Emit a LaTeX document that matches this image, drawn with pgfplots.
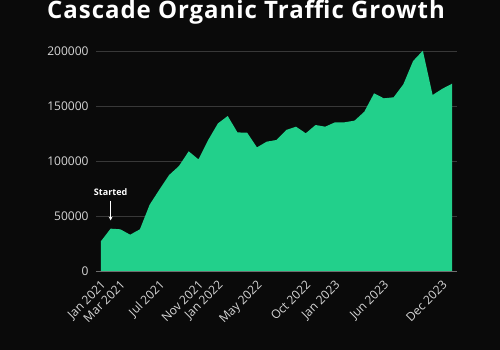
\documentclass[border=0pt]{standalone}
\usepackage{fontspec}
\setmainfont{Open Sans}
\newfontfamily\titlefont[LetterSpace=4]{Open Sans}
\usepackage{pgfplots}
\usetikzlibrary{arrows.meta}
\pgfplotsset{compat=1.18}
\definecolor{bg}{HTML}{0A0A0A}
\definecolor{fillg}{HTML}{22D08B}
\definecolor{gridc}{HTML}{383838}
\definecolor{basec}{HTML}{6E6E6E}
\definecolor{tickc}{HTML}{D6D6D6}
\begin{document}
\begin{tikzpicture}
\fill[bg] (-96bp,-79bp) rectangle (404bp,271bp);
\begin{axis}[
  at={(0,0)}, anchor=south west,
  scale only axis, width=361bp, height=220bp,
  xmin=-0.5, xmax=36.5, ymin=0, ymax=200000,
  clip=false,
  axis line style={draw=none},
  major tick length=0pt,
  ymajorgrids, grid style={gridc, line width=0.8bp},
  ytick={0,50000,100000,150000,200000},
  scaled y ticks=false,
  /pgf/number format/.cd, fixed, 1000 sep={}, assume math mode=true,
  /pgfplots/.cd,
  yticklabel style={font=\fontsize{12bp}{15bp}\selectfont, text=tickc, xshift=-4bp},
  xtick={0,2,6,10,12,16,21,24,29,35},
  xticklabels={Jan 2021,Mar 2021,Jul 2021,Nov 2021,Jan 2022,May 2022,Oct 2022,Jan 2023,Jun 2023,Dec 2023},
  xticklabel style={font=\fontsize{12bp}{15bp}\selectfont, text=tickc, rotate=45, anchor=north east, xshift=-3bp, yshift=-2bp},
]
\addplot[fill=fillg, draw=none] coordinates {
(0,27000) (1,38500) (2,37900) (3,33000) (4,37900) (5,60300) (6,74000) (7,87300)
(8,95400) (9,108800) (10,101500) (11,119100) (12,134200) (13,140900) (14,126000)
(15,125700) (16,112400) (17,117600) (18,119100) (19,128200) (20,131200) (21,125200)
(22,132700) (23,131200) (24,135200) (25,135200) (26,136700) (27,144800) (28,161500)
(29,157000) (30,157900) (31,169700) (32,190900) (33,200300) (34,160000) (35,165700)
(36,170300)
} \closedcycle;
\draw[basec, line width=0.8bp] (axis cs:-0.5,0) -- (axis cs:36.5,0);
\draw[white, line width=1bp, -{Stealth[length=4bp,width=4bp]}] (axis cs:1,64000) -- (axis cs:1,46000);
\node[white, font=\fontsize{9bp}{11bp}\selectfont\bfseries] at (axis cs:1,72000) {Started};
\end{axis}
\node[white, anchor=base, font=\titlefont\fontsize{24bp}{28bp}\selectfont\bfseries] at (150bp,252.7bp) {Cascade Organic Traffic Growth};
\pgfresetboundingbox
\useasboundingbox (-96bp,-79bp) rectangle (404bp,271bp);
\end{tikzpicture}
\end{document}
